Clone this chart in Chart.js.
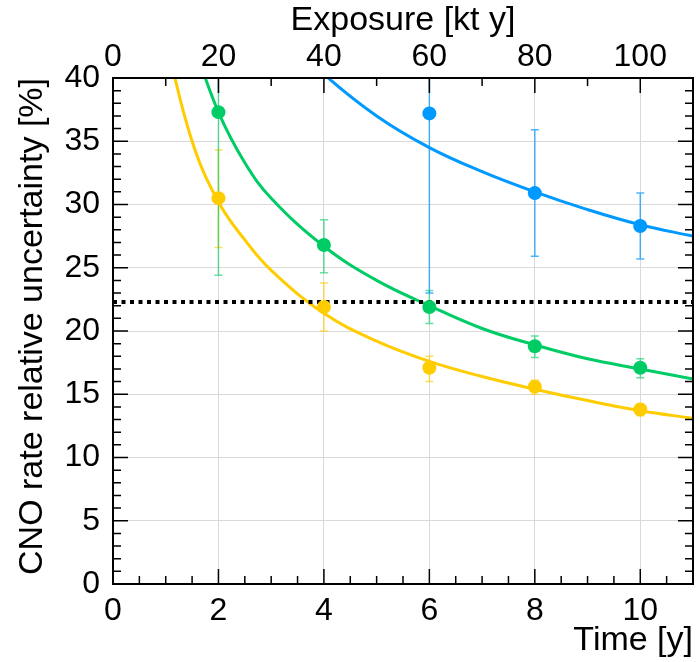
<!DOCTYPE html>
<html>
<head>
<meta charset="utf-8">
<script src="https://cdn.jsdelivr.net/npm/chart.js@4"></script>
<style>
  html, body { margin: 0; padding: 0; background: #fff; }
  #wrap { width: 700px; height: 662px; }
</style>
</head>
<body>
<div id="wrap"><canvas id="chart" width="700" height="662"></canvas></div>
<script>
// measured points (time in years)
const pointTime = [2, 4, 6, 8, 10];
const yellowVal = [30.5, 21.9, 17.1, 15.6, 13.8];
const yellowLo  = [26.6, 20.0, 16.0, 15.0, 13.3];
const yellowHi  = [34.3, 23.8, 18.0, 16.1, 14.2];
const greenVal  = [37.3, 26.8, 21.9, 18.8, 17.1];
const greenLo   = [24.4, 24.6, 20.6, 17.9, 16.3];
const greenHi   = [50.0, 28.8, 23.2, 19.6, 17.8];
const blueTime  = [6, 8, 10];
const blueVal   = [37.2, 30.9, 28.3];
const blueLo    = [23.0, 25.9, 25.7];
const blueHi    = [51.0, 35.9, 30.9];

// fitted curves
const yellowCurveT = [1.0, 1.5, 2, 2.5, 3, 4, 5, 6, 7, 8, 9, 10, 11];
const yellowCurveY = [43.0, 35.0, 30.2, 27.2, 24.8, 21.4, 19.2, 17.6, 16.4, 15.4, 14.5, 13.7, 13.1];
const greenCurveT  = [1.5, 2, 2.5, 3, 4, 5, 6, 7, 8, 9, 10, 11];
const greenCurveY  = [43.0, 37.3, 33.3, 30.5, 26.7, 24.0, 22.0, 20.2, 18.9, 17.8, 17.0, 16.2];
const blueCurveT   = [3.5, 4, 5, 6, 7, 8, 9, 10, 11];
const blueCurveY   = [42.5, 40.3, 37.0, 34.5, 32.6, 31.0, 29.6, 28.4, 27.5];

const thresholdY = 22.3;

const YELLOW = 'rgb(255,204,0)';
const GREEN = 'rgb(0,204,102)';
const BLUE = 'rgb(0,153,255)';
const FONT = "'Liberation Sans', Arial, sans-serif";

function xy(xs, ys) {
    return xs.map((x, i) => ({ x: x, y: ys[i] }));
}

function curve(xs, ys, color) {
    return {
        data: xy(xs, ys),
        showLine: true,
        borderColor: color,
        borderWidth: 3,
        pointRadius: 0,
        tension: 0.4,
        clip: 0,
        order: 3
    };
}

function markers(xs, ys, lo, hi, color, errColor) {
    return {
        data: xy(xs, ys),
        showLine: false,
        pointRadius: 7,
        pointBackgroundColor: color,
        pointBorderColor: color,
        pointBorderWidth: 0,
        errLo: lo,
        errHi: hi,
        errColor: errColor,
        order: 1
    };
}

// error bars, drawn under everything else
const errorBars = {
    id: 'errorBars',
    beforeDatasetsDraw(chart) {
        const { ctx, chartArea, scales } = chart;
        ctx.save();
        ctx.beginPath();
        ctx.rect(chartArea.left, chartArea.top, chartArea.right - chartArea.left, chartArea.bottom - chartArea.top);
        ctx.clip();
        chart.data.datasets.forEach(ds => {
            if (!ds.errLo) return;
            ctx.strokeStyle = ds.errColor;
            ctx.lineWidth = 1.5;
            ds.data.forEach((p, i) => {
                const px = scales.x.getPixelForValue(p.x);
                const y1 = scales.y.getPixelForValue(ds.errLo[i]);
                const y2 = scales.y.getPixelForValue(ds.errHi[i]);
                ctx.beginPath();
                ctx.moveTo(px, y1);
                ctx.lineTo(px, y2);
                ctx.moveTo(px - 4, y1);
                ctx.lineTo(px + 4, y1);
                ctx.moveTo(px - 4, y2);
                ctx.lineTo(px + 4, y2);
                ctx.stroke();
            });
        });
        ctx.restore();
    }
};

// frame and inside tick marks like ROOT
const frameTicks = {
    id: 'frameTicks',
    afterDraw(chart) {
        const { ctx, chartArea: a, scales } = chart;
        ctx.save();
        ctx.strokeStyle = '#000';
        ctx.lineWidth = 1.5;
        ctx.beginPath();
        // bottom: major every 2, minor every 0.5
        for (let i = 0; i <= 22; i++) {
            const px = scales.x.getPixelForValue(i * 0.5);
            const len = i % 4 === 0 ? 15 : 8;
            ctx.moveTo(px, a.bottom);
            ctx.lineTo(px, a.bottom - len);
        }
        // top: major every 20, minor every 10
        for (let i = 0; i <= 11; i++) {
            const px = scales.x2.getPixelForValue(i * 10);
            const len = i % 2 === 0 ? 15 : 8;
            ctx.moveTo(px, a.top);
            ctx.lineTo(px, a.top + len);
        }
        // left and right: major every 5, minor every 1
        for (let i = 0; i <= 40; i++) {
            const py = scales.y.getPixelForValue(i);
            const len = i % 5 === 0 ? 15 : 8;
            ctx.moveTo(a.left, py);
            ctx.lineTo(a.left + len, py);
            ctx.moveTo(a.right, py);
            ctx.lineTo(a.right - len, py);
        }
        ctx.stroke();
        ctx.lineWidth = 2;
        ctx.strokeRect(a.left, a.top, a.right - a.left, a.bottom - a.top);
        ctx.restore();
    }
};

const tickFont = { family: FONT, size: 32 };
const titleFont = { family: FONT, size: 34 };

new Chart(document.getElementById('chart'), {
    type: 'scatter',
    data: {
        datasets: [
            curve(yellowCurveT, yellowCurveY, YELLOW),
            curve(greenCurveT, greenCurveY, GREEN),
            curve(blueCurveT, blueCurveY, BLUE),
            {
                data: [{ x: 0, y: thresholdY }, { x: 11, y: thresholdY }],
                showLine: true,
                borderColor: '#000',
                borderWidth: 4,
                borderDash: [4, 4.5],
                pointRadius: 0,
                clip: 0,
                order: 2
            },
            markers(pointTime, yellowVal, yellowLo, yellowHi, YELLOW, 'rgba(255,204,0,0.65)'),
            markers(pointTime, greenVal, greenLo, greenHi, GREEN, 'rgba(0,204,102,0.6)'),
            markers(blueTime, blueVal, blueLo, blueHi, BLUE, 'rgba(0,153,255,0.7)')
        ]
    },
    options: {
        responsive: false,
        animation: false,
        layout: { padding: { left: 0, right: 4, top: 0, bottom: 0 } },
        plugins: {
            legend: { display: false },
            tooltip: { enabled: false }
        },
        scales: {
            x: {
                type: 'linear',
                position: 'bottom',
                min: 0,
                max: 11,
                afterFit: s => { s.height = 78; },
                border: { display: false },
                grid: { color: '#d9d9d9', lineWidth: 1, drawTicks: false },
                ticks: { stepSize: 2, includeBounds: false, font: tickFont, color: '#000', padding: 8, maxRotation: 0 },
                title: { display: true, text: 'Time [y]', align: 'end', font: titleFont, color: '#000', padding: { top: 0, bottom: 1 } }
            },
            x2: {
                type: 'linear',
                position: 'top',
                min: 0,
                max: 110,
                afterFit: s => { s.height = 78; },
                border: { display: false },
                grid: { display: false, drawTicks: false },
                ticks: { stepSize: 20, includeBounds: false, font: tickFont, color: '#000', padding: 2, maxRotation: 0 },
                title: { display: true, text: 'Exposure [kt y]', align: 'center', font: titleFont, color: '#000', padding: { top: 0, bottom: 0 } }
            },
            y: {
                type: 'linear',
                min: 0,
                max: 40,
                afterFit: s => { s.width = 113; },
                border: { display: false },
                grid: { color: '#d9d9d9', lineWidth: 1, drawTicks: false },
                ticks: { stepSize: 5, font: tickFont, color: '#000', padding: 13 },
                title: { display: true, text: 'CNO rate relative uncertainty [%]', align: 'end', font: titleFont, color: '#000', padding: { top: 12, bottom: 0 } }
            }
        }
    },
    plugins: [errorBars, frameTicks]
});
</script>
</body>
</html>
